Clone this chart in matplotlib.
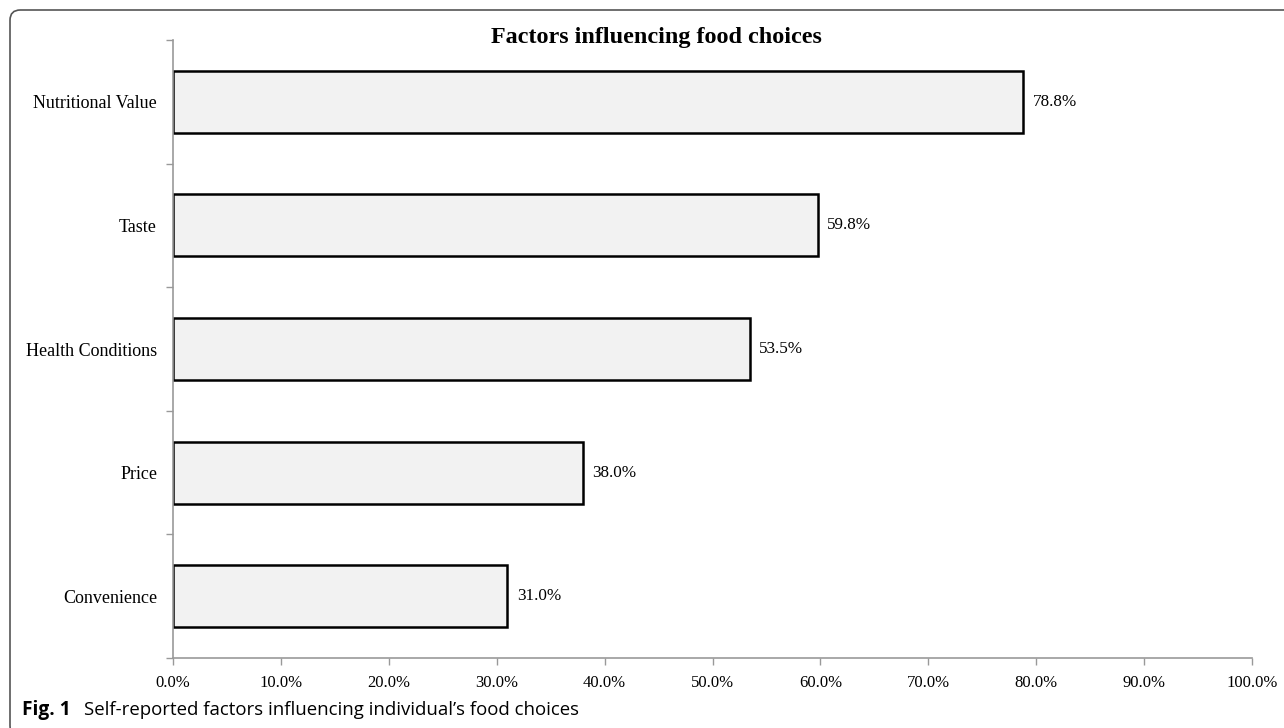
import matplotlib
matplotlib.use("Agg")
import matplotlib.pyplot as plt
from matplotlib.patches import FancyBboxPatch
from matplotlib.ticker import MultipleLocator, FuncFormatter, FixedLocator

factors = ['Nutritional Value', 'Taste', 'Health Conditions', 'Price', 'Convenience']
percent = [78.8, 59.8, 53.5, 38.0, 31.0]

plt.rcParams['font.family'] = ['Liberation Serif', 'DejaVu Serif']

W, H = 1284, 728
fig = plt.figure(figsize=(W / 100, H / 100), dpi=100)
ax = fig.add_axes([173 / W, 1 - 658 / H, (1252 - 173) / W, (658 - 40) / H])

ypos = list(range(len(factors)))[::-1]
ax.barh(ypos, percent, height=0.5, color='#f2f2f2', edgecolor='black', linewidth=1.8)
for y, v in zip(ypos, percent):
    ax.text(v + 0.85, y, f'{v:.1f}%', va='center', ha='left', fontsize=12.3)

ax.set_xlim(0, 100)
ax.set_ylim(-0.5, len(factors) - 0.5)
ax.xaxis.set_major_locator(MultipleLocator(10))
ax.xaxis.set_major_formatter(FuncFormatter(lambda v, p: f'{v:.1f}%'))
ax.set_yticks(ypos)
ax.set_yticklabels(factors)
ax.yaxis.set_minor_locator(FixedLocator([i - 0.5 for i in range(len(factors) + 1)]))
ax.tick_params(axis='y', which='major', length=0, pad=11.5, labelsize=13)
ax.tick_params(axis='y', which='minor', length=5, color='#999999', width=1)
ax.tick_params(axis='x', length=5, color='#999999', width=1, pad=7, labelsize=12)

for s in ['top', 'right']:
    ax.spines[s].set_visible(False)
for s in ['left', 'bottom']:
    ax.spines[s].set_color('#999999')
    ax.spines[s].set_linewidth(1.2)

fig.text(656 / W, 1 - 43 / H, 'Factors influencing food choices',
         ha='center', va='baseline', fontsize=17.4, fontweight='bold')

# caption
sans = ['Open Sans', 'DejaVu Sans']
fig.text(22 / W, 1 - 715 / H, 'Fig. 1', ha='left', va='baseline', fontsize=13.8,
         fontweight='bold', family=sans)
fig.text(84 / W, 1 - 715 / H, 'Self-reported factors influencing individual\u2019s food choices',
         ha='left', va='baseline', fontsize=13.4, family=sans)

# frame (right and bottom edges run off the page)
frame = FancyBboxPatch((10 / W, -8 / H), 1300 / W, (H - 10 + 8) / H,
                       boxstyle='round,pad=0,rounding_size=0.008', transform=fig.transFigure,
                       fill=False, edgecolor='#555555', linewidth=1.2, mutation_aspect=W / H)
fig.patches.append(frame)

fig.savefig('out.png', dpi=100)
